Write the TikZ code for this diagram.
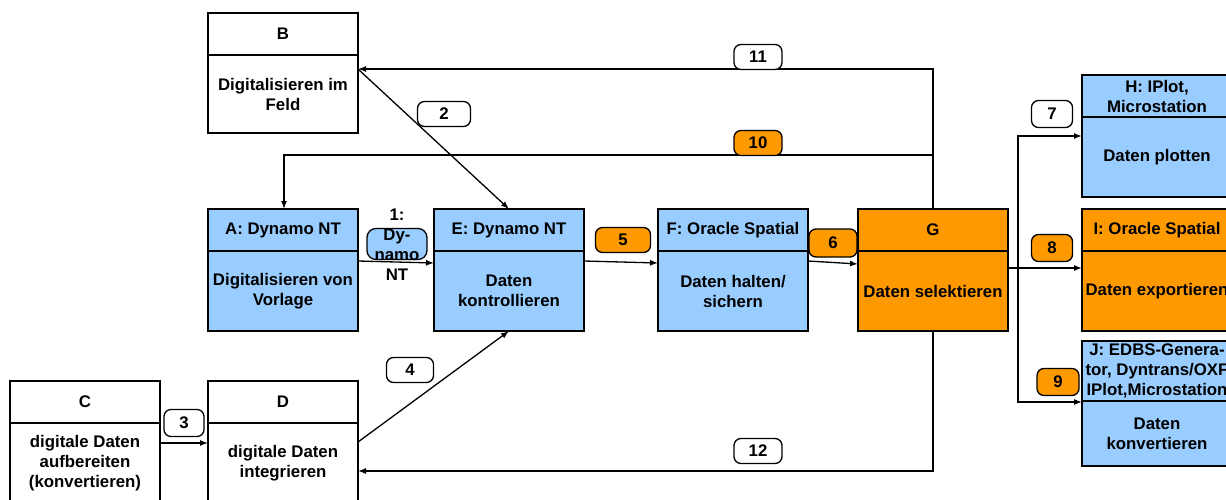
\documentclass[tikz,border=0pt]{standalone}
\usepackage{fontspec}
\setmainfont{Liberation Sans}
\usetikzlibrary{arrows.meta,calc}
\definecolor{lb}{RGB}{153,204,255}
\definecolor{og}{RGB}{255,153,0}
\newcommand\blk[8]{%
  \node[part, fill=#6, minimum height=#4pt] (#1h) at (#2,#3) {#7};
  \node[part, fill=#6, minimum height=#5pt] (#1) at (#1h.south) {#8};}
\begin{document}
\begin{tikzpicture}[x=1pt,y=-1pt,
  txt/.style={font=\fontsize{16.8}{20}\selectfont\bfseries},
  part/.style={txt, draw, line width=1.6pt, minimum width=150pt, inner sep=0pt, outer sep=0pt, align=center, anchor=north},
  ln/.style={line width=1.3pt},
  arr/.style={line width=1.3pt, -{Latex[length=8pt,width=6pt]}},
  lab/.style={txt, rectangle, rounded corners=7pt, draw, line width=1.3pt, minimum height=25pt, inner sep=0pt, fill=white}]
\useasboundingbox (0,0) rectangle (1226,500);
\clip (0,0) rectangle (1226,500);
\fill[white] (0,0) rectangle (1226,500);
% boxes
\blk{B}{283}{13}{42}{78}{white}{B}{Digitalisieren im\\Feld}
\blk{A}{283}{209}{42}{80}{lb}{A: Dynamo NT}{Digitalisieren von\\Vorlage}
\blk{E}{509}{209}{42}{80}{lb}{E: Dynamo NT}{Daten\\kontrollieren}
\blk{F}{733}{209}{42}{80}{lb}{F: Oracle Spatial}{Daten halten/\\sichern}
\blk{G}{933}{209}{42}{80}{og}{G}{Daten selektieren}
\blk{H}{1157}{75}{42}{80}{lb}{H: IPlot,\\Microstation}{Daten plotten}
\blk{I}{1157}{209}{42}{80}{og}{I: Oracle Spatial}{Daten exportieren}
\blk{J}{1157}{341}{60}{65}{lb}{J: EDBS-Genera-\\tor, Dyntrans/OXF\\IPlot,Microstation}{Daten\\konvertieren}
\blk{C}{85}{381}{42}{80}{white}{C}{digitale Daten\\aufbereiten\\(konvertieren)}
\blk{D}{283}{381}{42}{80}{white}{D}{digitale Daten\\integrieren}
% connectors
\draw[arr] ([yshift=-10pt]A.north east) -- ([yshift=-12pt]E.north west);
\draw[arr] ([yshift=-10pt]E.north east) -- ([yshift=-12pt]F.north west);
\draw[arr] ([yshift=-10pt]F.north east) -- ([yshift=-13pt]G.north west);
\coordinate (sp) at (1018,268);
\draw[ln] ([yshift=-17pt]G.north east) -- (sp);
\draw[arr] (sp) -- (sp -| I.west);
\draw[arr] (sp) |- ([yshift=-19pt]H.north west);
\draw[arr] (sp) |- ([yshift=-1pt]J.north west);
\draw[arr] (Gh.north) |- ([yshift=-14pt]B.north east);
\coordinate (g10) at (933,155);
\draw[arr] (g10) -| ([xshift=1pt]Ah.north);
\draw[arr] ([yshift=-14pt]B.north east) -- (Eh.north);
\draw[arr] ([yshift=-19pt]D.north east) -- (E.south);
\draw[arr] ([yshift=-20pt]C.north east) -- ([yshift=-20pt]D.north west);
\draw[arr] (G.south) |- ([yshift=-48pt]D.north east);
% labels
\node[lab, minimum width=48pt] (l11) at (758,57) {11};
\node[lab, minimum width=48pt, fill=og] (l10) at (758,143) {10};
\node[lab, minimum width=53pt] (l2) at (444,114) {2};
\node[lab, minimum width=41pt, minimum height=27pt] (l7) at (1052,114) {7};
\node[lab, minimum width=41pt, minimum height=27pt, fill=og] (l8) at (1052,248) {8};
\node[lab, minimum width=42pt, minimum height=27pt, fill=og] (l9) at (1058,382) {9};
\node[lab, minimum width=55pt, fill=og] (l5) at (623,240) {5};
\node[lab, minimum width=48pt, fill=og, minimum height=28pt] (l6) at (833,243) {6};
\node[lab, minimum width=40pt, minimum height=27pt] (l3) at (184,423) {3};
\node[lab, minimum width=47pt] (l4) at (410,370) {4};
\node[lab, minimum width=48pt] (l12) at (758,451) {12};
\node[lab, minimum width=60pt, minimum height=31pt, rounded corners=9pt, fill=lb] (l1) at (397,244) {};
\node[txt, align=center, inner sep=0pt] (l1t) at (397,245) {1:\\Dy-\\namo\\NT};
\end{tikzpicture}
\end{document}
